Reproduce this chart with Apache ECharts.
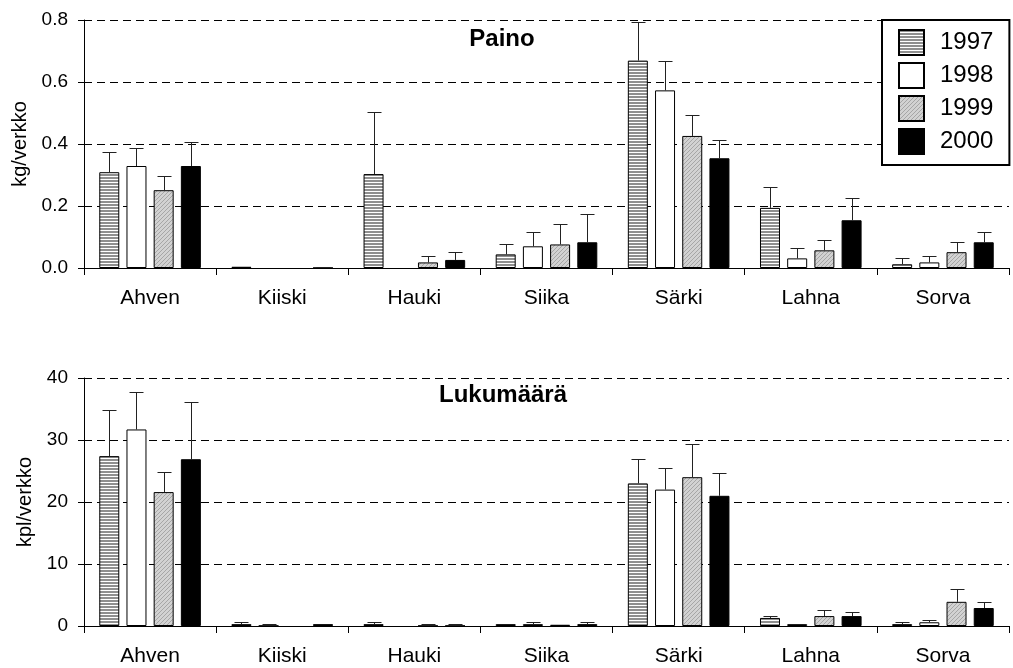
<!DOCTYPE html>
<html>
<head>
<meta charset="utf-8">
<script src="https://cdn.jsdelivr.net/npm/echarts@6/dist/echarts.min.js"></script>
<style>
html,body{margin:0;padding:0;background:#fff;}
#c{width:1013px;height:668px;}
</style>
</head>
<body>
<div id="c"></div>
<script>
// ---- data ----
var categories = ['Ahven', 'Kiiski', 'Hauki', 'Siika', 'Särki', 'Lahna', 'Sorva'];
var years = ['1997', '1998', '1999', '2000'];

// Paino (kg/verkko) means
var paino1997 = [0.309, 0.004, 0.303, 0.044, 0.669, 0.194, 0.012];
var paino1998 = [0.329, 0, 0, 0.070, 0.573, 0.031, 0.018];
var paino1999 = [0.251, 0, 0.018, 0.076, 0.426, 0.057, 0.051];
var paino2000 = [0.329, 0.0005, 0.026, 0.083, 0.354, 0.154, 0.083];
// Paino upper error (SE)
var painoErr1997 = [0.065, 0, 0.200, 0.032, 0.125, 0.068, 0.019];
var painoErr1998 = [0.057, 0, 0, 0.046, 0.096, 0.033, 0.020];
var painoErr1999 = [0.046, 0, 0.021, 0.066, 0.069, 0.033, 0.032];
var painoErr2000 = [0.076, 0.0035, 0.025, 0.090, 0.058, 0.071, 0.033];

// Lukumäärä (kpl/verkko) means
var luku1997 = [27.4, 0.3, 0.3, 0.3, 23.0, 1.3, 0.3];
var luku1998 = [31.7, 0.05, 0, 0.3, 22.0, 0.3, 0.6];
var luku1999 = [21.6, 0, 0.05, 0.2, 24.0, 1.6, 3.9];
var luku2000 = [26.9, 0.3, 0.05, 0.3, 21.0, 1.6, 2.9];
// Lukumäärä upper error (SE)
var lukuErr1997 = [7.5, 0.4, 0.3, 0, 3.9, 0.3, 0.4];
var lukuErr1998 = [6.1, 0.25, 0, 0.3, 3.5, 0, 0.4];
var lukuErr1999 = [3.3, 0, 0.2, 0, 5.4, 1.0, 2.0];
var lukuErr2000 = [9.3, 0, 0.2, 0.3, 3.6, 0.7, 1.0];

var painoTicks = ['0.0', '0.2', '0.4', '0.6', '0.8'];
var lukuTicks = ['0', '10', '20', '30', '40'];

// ---- styles ----
var FONT = 'Liberation Sans, Arial, Helvetica, sans-serif';
var BW = 20, GAPPCT = 36;
var GAP = BW * GAPPCT / 100;

function stripes() {
  var c = document.createElement('canvas'); c.width = 4; c.height = 3;
  var g = c.getContext('2d');
  g.fillStyle = '#ffffff'; g.fillRect(0, 0, 4, 3);
  g.fillStyle = '#8f8f8f'; g.fillRect(0, 0, 4, 2);
  return c;
}
function diag() {
  var c = document.createElement('canvas'); c.width = 4; c.height = 4;
  var g = c.getContext('2d');
  g.fillStyle = '#d2d2d2'; g.fillRect(0, 0, 4, 4);
  g.fillStyle = '#a6a6a6';
  for (var i = 0; i < 4; i++) g.fillRect(i, 3 - i, 1, 1);
  return c;
}
var fills = [
  { image: stripes(), repeat: 'repeat' },
  '#ffffff',
  { image: diag(), repeat: 'repeat' },
  '#000000'
];

var painoMeans = [paino1997, paino1998, paino1999, paino2000];
var painoErrs = [painoErr1997, painoErr1998, painoErr1999, painoErr2000];
var lukuMeans = [luku1997, luku1998, luku1999, luku2000];
var lukuErrs = [lukuErr1997, lukuErr1998, lukuErr1999, lukuErr2000];

function barSeries(gi, means) {
  return years.map(function (y, i) {
    return {
      type: 'bar', name: y, xAxisIndex: gi, yAxisIndex: gi,
      data: means[i].map(function (v) { return v === 0 ? null : v; }),
      barWidth: BW, barGap: GAPPCT + '%',
      itemStyle: { color: fills[i], borderColor: '#000', borderWidth: 1 },
      emphasis: { disabled: true }, z: 3
    };
  });
}
function errSeries(gi, means, errs) {
  return years.map(function (y, i) {
    var d = means[i].map(function (m, k) { return [k, m, m + errs[i][k]]; });
    return {
      type: 'custom', name: y, xAxisIndex: gi, yAxisIndex: gi, data: d, z: 4,
      silent: true,
      renderItem: function (params, api) {
        var lo = api.value(1), hi = api.value(2);
        if (!(hi > lo)) return null;
        var p0 = api.coord([api.value(0), lo]);
        var p1 = api.coord([api.value(0), hi]);
        var x = Math.round(p0[0] + (i - 1.5) * (BW + GAP)) + 0.5;
        var y0 = p0[1], y1 = Math.round(p1[1]) + 0.5;
        return {
          type: 'group',
          children: [
            { type: 'line', shape: { x1: x, y1: y0, x2: x, y2: y1 }, style: { stroke: '#222', lineWidth: 1 } },
            { type: 'line', shape: { x1: x - 7, y1: y1, x2: x + 7, y2: y1 }, style: { stroke: '#222', lineWidth: 1 } }
          ]
        };
      }
    };
  });
}

function xAx(gi) {
  return {
    type: 'category', gridIndex: gi, data: categories,
    axisLine: { lineStyle: { color: '#000', width: 1 } },
    axisTick: { show: true, length: 7, lineStyle: { color: '#000' } },
    axisLabel: { color: '#000', fontSize: 21, fontFamily: FONT, margin: 20 }
  };
}
function yAx(gi, max, interval, ticks, name) {
  return {
    type: 'value', gridIndex: gi, min: 0, max: max, interval: interval,
    name: name, nameLocation: 'middle', nameGap: 47,
    nameTextStyle: { color: '#000', fontSize: 20, fontFamily: FONT },
    axisLine: { show: true, lineStyle: { color: '#000', width: 1 } },
    axisTick: { show: true, length: 6, lineStyle: { color: '#000' } },
    axisLabel: {
      color: '#000', fontSize: 19, fontFamily: FONT, margin: 16,
      formatter: function (v) { return ticks[Math.round(v / interval)]; }
    },
    splitLine: { show: true, lineStyle: { color: '#000', width: 1, type: [8, 5] } }
  };
}

var chart = echarts.init(document.getElementById('c'), null, { renderer: 'canvas' });
chart.setOption({
  animation: false,
  backgroundColor: '#fff',
  grid: [
    { left: 84, right: 4, top: 20, height: 248 },
    { left: 84, right: 4, top: 378, height: 248 }
  ],
  xAxis: [xAx(0), xAx(1)],
  yAxis: [yAx(0, 0.8, 0.2, painoTicks, 'kg/verkko'), yAx(1, 40, 10, lukuTicks, 'kpl/verkko')],
  legend: {
    data: years, orient: 'vertical', left: 882, top: 20,
    backgroundColor: '#fff', borderColor: '#000', borderWidth: 2,
    padding: [9, 16, 10, 16], itemWidth: 25, itemHeight: 25, itemGap: 6,
    icon: 'rect', selectedMode: false,
    textStyle: { color: '#000', fontSize: 24, fontFamily: FONT, padding: [0, 0, 0, 11] }
  },
  graphic: [
    { type: 'text', x: 502, y: 39, z: 10, style: { text: 'Paino', font: 'bold 24px ' + FONT, fill: '#000', textAlign: 'center', textVerticalAlign: 'middle' } },
    { type: 'text', x: 503, y: 395, z: 10, style: { text: 'Lukumäärä', font: 'bold 24px ' + FONT, fill: '#000', textAlign: 'center', textVerticalAlign: 'middle' } }
  ],
  series: [].concat(
    barSeries(0, painoMeans), barSeries(1, lukuMeans),
    errSeries(0, painoMeans, painoErrs), errSeries(1, lukuMeans, lukuErrs)
  )
});
</script>
</body>
</html>
